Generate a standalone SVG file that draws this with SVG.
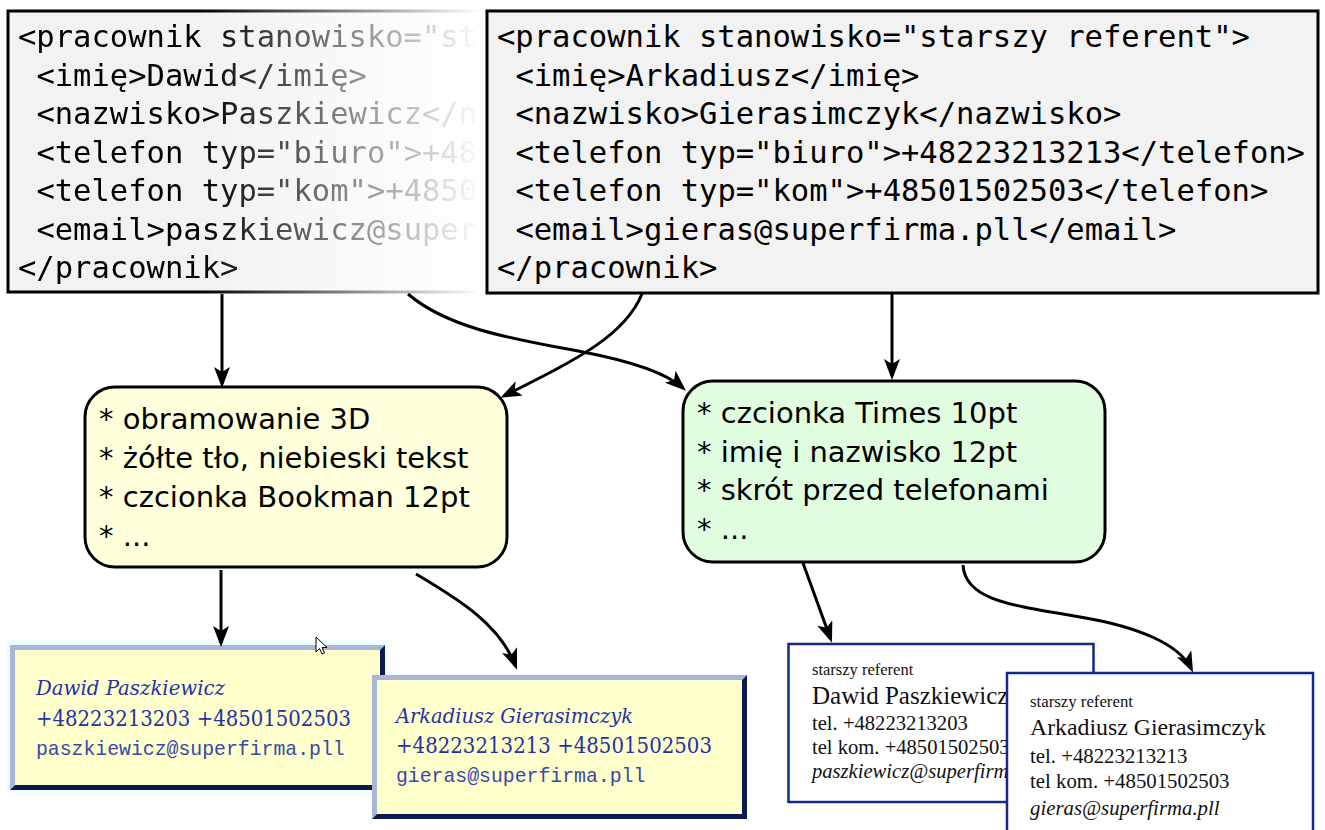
<svg xmlns="http://www.w3.org/2000/svg" width="1325" height="830" viewBox="0 0 1325 830">
<style>
.xml{font-family:"DejaVu Sans Mono",monospace;font-size:30.5px;fill:#000}
.xbox{fill:#f2f2f2;stroke:#000;stroke-width:3}
.nt{font-family:"DejaVu Sans",sans-serif;font-size:29px;fill:#000}
.edge{fill:none;stroke:#000;stroke-width:3;marker-end:url(#ah)}
.cy{font-family:"DejaVu Serif","Liberation Serif",serif;fill:#2432a8}
.cm{font-family:"Liberation Mono",monospace;font-size:19.8px;fill:#3848a8}
.ct{font-family:"Liberation Serif",serif;fill:#111}
.wcard{fill:#fff;stroke:#0f2a8c;stroke-width:2.5}
</style>
<defs>
<marker id="ah" markerUnits="userSpaceOnUse" markerWidth="22" markerHeight="18" refX="17" refY="8" orient="auto">
<path d="M0,0 L21,8 L0,16 L5,8 z" fill="#000"/>
</marker>
<linearGradient id="fadeg" gradientUnits="userSpaceOnUse" x1="200" y1="0" x2="482" y2="0">
<stop offset="0" stop-color="#fff"/>
<stop offset="1" stop-color="#000"/>
</linearGradient>
<mask id="fade" maskUnits="userSpaceOnUse" x="0" y="0" width="520" height="310">
<rect x="0" y="0" width="520" height="310" fill="url(#fadeg)"/>
</mask>
</defs>

<g id="xml-left" mask="url(#fade)">
<rect class="xbox" x="8" y="11" width="520" height="281"/>
<text class="xml" x="18" y="47">&lt;pracownik stanowisko="st</text>
<text class="xml" x="36.4" y="85.5">&lt;imię&gt;Dawid&lt;/imię&gt;</text>
<text class="xml" x="36.4" y="124">&lt;nazwisko&gt;Paszkiewicz&lt;/n</text>
<text class="xml" x="36.4" y="162.5">&lt;telefon typ="biuro"&gt;+48</text>
<text class="xml" x="36.4" y="201">&lt;telefon typ="kom"&gt;+4850</text>
<text class="xml" x="36.4" y="239.5">&lt;email&gt;paszkiewicz@super</text>
<text class="xml" x="18" y="278">&lt;/pracownik&gt;</text>
</g>

<g id="xml-right">
<rect class="xbox" x="487" y="11" width="831" height="282"/>
<text class="xml" x="497" y="47">&lt;pracownik stanowisko="starszy referent"&gt;</text>
<text class="xml" x="515.4" y="85.5">&lt;imię&gt;Arkadiusz&lt;/imię&gt;</text>
<text class="xml" x="515.4" y="124">&lt;nazwisko&gt;Gierasimczyk&lt;/nazwisko&gt;</text>
<text class="xml" x="515.4" y="162.5">&lt;telefon typ="biuro"&gt;+48223213213&lt;/telefon&gt;</text>
<text class="xml" x="515.4" y="201">&lt;telefon typ="kom"&gt;+48501502503&lt;/telefon&gt;</text>
<text class="xml" x="515.4" y="239.5">&lt;email&gt;gieras@superfirma.pll&lt;/email&gt;</text>
<text class="xml" x="497" y="278">&lt;/pracownik&gt;</text>
</g>

<g id="style-yellow">
<rect x="85" y="387" width="422" height="180" rx="30" fill="#ffffdc" stroke="#000" stroke-width="3"/>
<text class="nt" x="99" y="429">* obramowanie 3D</text>
<text class="nt" x="99" y="468">* żółte tło, niebieski tekst</text>
<text class="nt" x="99" y="507">* czcionka Bookman 12pt</text>
<text class="nt" x="99" y="546">* ...</text>
</g>

<g id="style-green">
<rect x="683" y="381" width="422" height="181" rx="30" fill="#e0fde0" stroke="#000" stroke-width="3"/>
<text class="nt" x="697" y="423">* czcionka Times 10pt</text>
<text class="nt" x="697" y="461.5">* imię i nazwisko 12pt</text>
<text class="nt" x="697" y="500">* skrót przed telefonami</text>
<text class="nt" x="697" y="538.5">* ...</text>
</g>

<g id="card-yellow-dawid">
<rect x="7" y="640" width="381" height="155" fill="#eefdff"/>
<rect x="10" y="645" width="375" height="145" fill="#ffffcc"/>
<polygon points="10,645 385,645 380,650 15,650 15,785 10,790" fill="#aab6d8"/>
<polygon points="385,645 385,790 10,790 15,785 380,785 380,650" fill="#0b1a50"/>
<text class="cy" x="36" y="695" font-size="20" font-style="italic" textLength="189" lengthAdjust="spacingAndGlyphs">Dawid Paszkiewicz</text>
<text class="cy" x="36" y="726" font-size="22" textLength="315" lengthAdjust="spacingAndGlyphs">+48223213203 +48501502503</text>
<text class="cm" x="36" y="755">paszkiewicz@superfirma.pll</text>
</g>

<g id="card-yellow-arkadiusz">
<rect x="372" y="675" width="375" height="144" fill="#ffffcc"/>
<polygon points="372,675 747,675 742,680 377,680 377,814 372,819" fill="#aab6d8"/>
<polygon points="747,675 747,819 372,819 377,814 742,814 742,680" fill="#0b1a50"/>
<text class="cy" x="396" y="723" font-size="20" font-style="italic" textLength="237" lengthAdjust="spacingAndGlyphs">Arkadiusz Gierasimczyk</text>
<text class="cy" x="396" y="753" font-size="22" textLength="316" lengthAdjust="spacingAndGlyphs">+48223213213 +48501502503</text>
<text class="cm" x="396" y="782">gieras@superfirma.pll</text>
</g>

<g id="card-white-dawid">
<rect x="785" y="641" width="312" height="165" fill="#fffbe6"/>
<rect class="wcard" x="788.5" y="644" width="305" height="158"/>
<text class="ct" x="812" y="675" font-size="16.5">starszy referent</text>
<text class="ct" x="812" y="704" font-size="25">Dawid Paszkiewicz</text>
<text class="ct" x="812" y="730" font-size="20.6">tel. +48223213203</text>
<text class="ct" x="812" y="754" font-size="20.6">tel kom. +48501502503</text>
<text class="ct" x="812" y="778" font-size="20.6" font-style="italic">paszkiewicz@superfirma.pll</text>
</g>

<g id="card-white-arkadiusz">
<rect class="wcard" x="1007" y="673" width="306" height="170"/>
<text class="ct" x="1030" y="707" font-size="16.8">starszy referent</text>
<text class="ct" x="1030" y="735" font-size="23.8">Arkadiusz Gierasimczyk</text>
<text class="ct" x="1030" y="763" font-size="20.8">tel. +48223213213</text>
<text class="ct" x="1030" y="788" font-size="20.8">tel kom. +48501502503</text>
<text class="ct" x="1030" y="815" font-size="20.8" font-style="italic">gieras@superfirma.pll</text>
</g>

<g id="cursor">
<path d="M316,637 L316,652 L319.5,648.5 L322,654 L324.5,653 L322,647.5 L327,647.5 Z" fill="#fff" stroke="#000" stroke-width="1"/>
</g>

<g id="connectors">
<path class="edge" d="M222,294 L222,384"/>
<path class="edge" d="M642,294 C625,335 580,358 504,396"/>
<path class="edge" d="M408,294 C450,330 520,340 583,352 C630,361 665,372 683,388"/>
<path class="edge" d="M892,294 L892,376"/>
<path class="edge" d="M221,570 L221,643"/>
<path class="edge" d="M416,574 C460,600 500,625 515.6,666"/>
<path class="edge" d="M803,563 L830.6,639"/>
<path class="edge" d="M963,565 C965,600 1010,605 1080,617 C1140,627 1180,645 1191.3,669"/>
</g>
</svg>
